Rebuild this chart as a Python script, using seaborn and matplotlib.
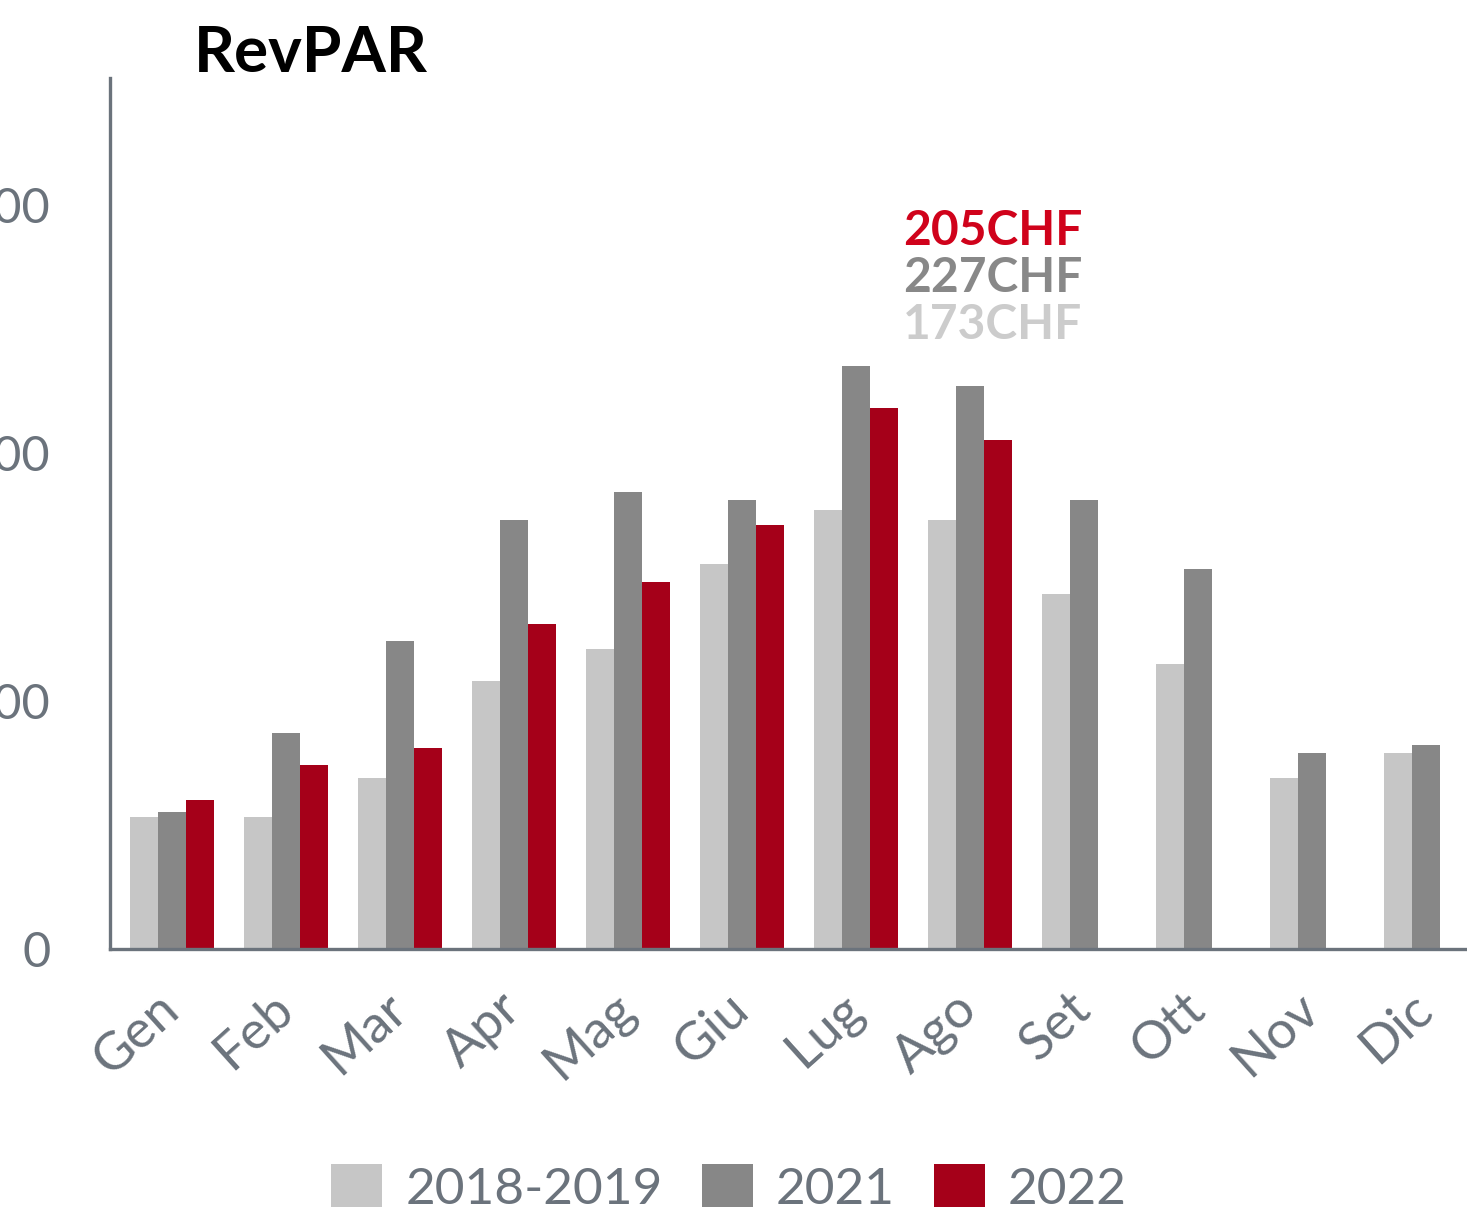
import pandas as pd
import numpy as np
import matplotlib
matplotlib.use('Agg')
import matplotlib.pyplot as plt
from matplotlib.patches import Patch
import seaborn as sns

# data (RevPAR, CHF)
months = ["Gen", "Feb", "Mar", "Apr", "Mag", "Giu", "Lug", "Ago", "Set", "Ott", "Nov", "Dic"]
periods = ["2018-2019", "2021", "2022"]
rev_1819 = [53, 53, 69, 108, 121, 155, 177, 173, 143, 115, 69, 79]
rev_2021 = [55, 87, 124, 173, 184, 181, 235, 227, 181, 153, 79, 82]
rev_2022 = [60, 74, 81, 131, 148, 171, 218, 205, np.nan, np.nan, np.nan, np.nan]
colors = ["#c6c6c6", "#878787", "#a50019"]
label_colors = ["#cccccc", "#888888", "#d0021b"]
ago_labels = ["173CHF", "227CHF", "205CHF"]
yticks = [0, 100, 200, 300]

sns.set_style("white")
plt.rcParams['font.family'] = ['Lato', 'DejaVu Sans']
grey = "#6b737c"

df = pd.DataFrame({
    "month": months * 3,
    "period": [p for p in periods for _ in months],
    "value": rev_1819 + rev_2021 + rev_2022,
})

fig = plt.figure(figsize=(14.67, 12.07), dpi=100)
ax = fig.add_axes([0.075, 0.2138, 0.925, 0.7216])

sns.barplot(data=df, x="month", y="value", hue="period", hue_order=periods,
            palette=colors, saturation=1, width=0.74, errorbar=None,
            linewidth=0, legend=False, ax=ax)

ax.set_xlim(-0.544, 11.36)
ax.set_ylim(0, 351)
ax.set_yticks(yticks)
ax.set_yticklabels([str(t) for t in yticks])
ax.set_xlabel("")
ax.set_ylabel("")

for side in ["top", "right"]:
    ax.spines[side].set_visible(False)
for side in ["left", "bottom"]:
    ax.spines[side].set_color(grey)
    ax.spines[side].set_linewidth(2.4)

ax.tick_params(axis="y", length=0, pad=43, labelsize=35, labelcolor=grey)
ax.tick_params(axis="x", length=0, pad=38, labelsize=38, labelcolor=grey)
for lbl in ax.get_xticklabels():
    lbl.set_rotation(42)
    lbl.set_ha("right")
    lbl.set_va("center")
    lbl.set_rotation_mode("anchor")

# annotation for August
ago = months.index("Ago")
for i, (txt, c) in enumerate(zip(ago_labels, label_colors)):
    ax.text(ago + 0.985, 251.5 + 19 * i, txt, color=c, fontsize=34.5,
            fontweight="bold", ha="right", va="center")

fig.text(0.132, 0.979, "RevPAR", fontsize=46, fontweight="bold",
         color="black", ha="left", va="top")

handles = [Patch(facecolor=c, edgecolor="none", label=p) for c, p in zip(colors, periods)]
leg = fig.legend(handles=handles, loc="upper center", bbox_to_anchor=(0.497, 0.036),
                 ncol=3, frameon=False, fontsize=37, handlelength=1.0,
                 handleheight=1.0, handletextpad=0.45, columnspacing=0.75,
                 borderaxespad=0, borderpad=0)
for t in leg.get_texts():
    t.set_color(grey)

fig.savefig("out.png", dpi=100)
